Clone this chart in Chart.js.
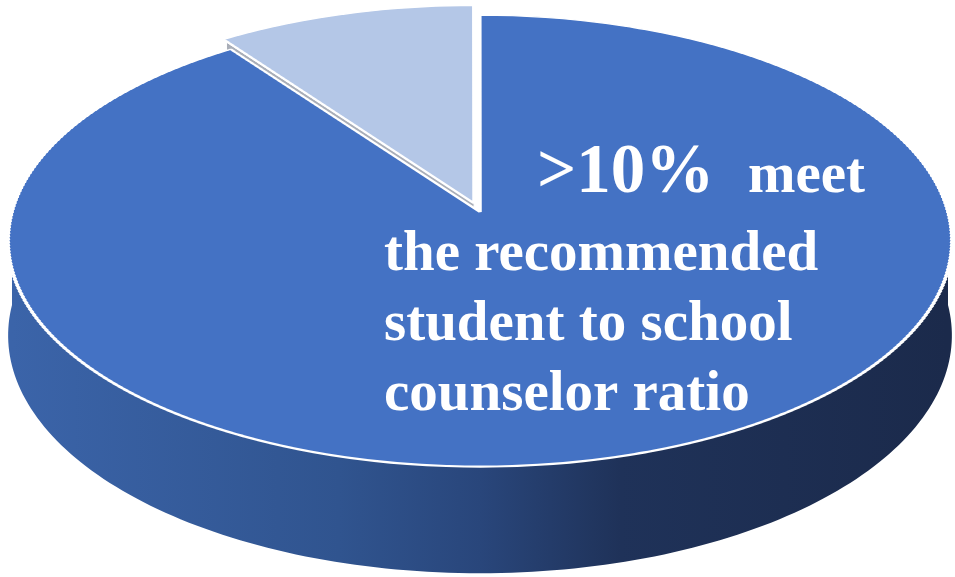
<!DOCTYPE html>
<html>
<head>
<meta charset="utf-8">
<script src="https://cdn.jsdelivr.net/npm/chart.js@4.4.0/dist/chart.umd.min.js"></script>
<style>
  html, body { margin: 0; padding: 0; background: #ffffff; }
  #wrap { width: 955px; height: 577px; }
</style>
</head>
<body>
<div id="wrap"><canvas id="pie" width="955" height="577"></canvas></div>
<script>
// Schools meeting the recommended student to school counselor ratio
const labels = ['Do not meet the ratio', 'Meet the ratio'];
const shares = [90, 10];
const sliceColors = ['#4472C4', '#B4C7E7'];
const sliceOffsets = [0, 44];
const faceColors = ['#2F528F', '#A9AEB8'];
const calloutLines = ['the recommended', 'student to school', 'counselor ratio'];
const calloutHead = '>10%';
const calloutTail = 'meet';

// how the flat pie is tilted on screen (perspective)
const VIEW = { cx: 480, cy: 212, kx: 468, ky: 222, persp: 0.128, depth: 93 };

function project(arc, px, py) {
    const R = arc.outerRadius;
    const u = (px - arc.x) / R;
    const v = (py - arc.y) / R;
    const w = 1 - VIEW.persp * v;
    return { X: VIEW.cx + VIEW.kx * u / w, Y: VIEW.cy + VIEW.ky * v / w, w };
}

function invY(Y) {
    const t = Y - VIEW.cy;
    return t / (VIEW.ky + VIEW.persp * t);
}

function sliceCenter(arc) {
    const off = (arc.options.offset || 0) / 4;
    const half = (arc.startAngle + arc.endAngle) / 2;
    return { ox: arc.x + Math.cos(half) * off, oy: arc.y + Math.sin(half) * off };
}

function wallGradient(ctx) {
    const g = ctx.createLinearGradient(VIEW.cx - VIEW.kx, 0, VIEW.cx + VIEW.kx, 0);
    g.addColorStop(0, '#3B64A9');
    g.addColorStop(0.35, '#30548F');
    g.addColorStop(0.5, '#29467B');
    g.addColorStop(0.65, '#1F3259');
    g.addColorStop(1, '#1B2A4B');
    return g;
}

// front (curved) side of each slice
function drawWall(ctx, arc) {
    const { ox, oy } = sliceCenter(arc);
    const R = arc.outerRadius;
    for (let k = -1; k <= 1; k++) {
        const lo = Math.max(arc.startAngle, 2 * Math.PI * k);
        const hi = Math.min(arc.endAngle, 2 * Math.PI * k + Math.PI);
        if (hi <= lo) continue;
        const top = [], bot = [];
        const n = 160;
        for (let i = 0; i <= n; i++) {
            const a = lo + (hi - lo) * i / n;
            const p = project(arc, ox + Math.cos(a) * R, oy + Math.sin(a) * R);
            top.push(p);
            bot.push({ X: p.X, Y: p.Y + VIEW.depth / p.w });
        }
        ctx.beginPath();
        top.forEach((p, i) => (i ? ctx.lineTo(p.X, p.Y) : ctx.moveTo(p.X, p.Y)));
        for (let i = bot.length - 1; i >= 0; i--) ctx.lineTo(bot[i].X, bot[i].Y);
        ctx.closePath();
        ctx.fillStyle = wallGradient(ctx);
        ctx.fill();
    }
}

// straight cut faces that look toward the viewer
function drawCutFaces(ctx, arc, i) {
    const { ox, oy } = sliceCenter(arc);
    const R = arc.outerRadius;
    const faces = [
        [arc.startAngle, arc.startAngle - Math.PI / 2],
        [arc.endAngle, arc.endAngle + Math.PI / 2]
    ];
    faces.forEach(([a, normal]) => {
        if (Math.sin(normal) < 0.05) return;
        const c = project(arc, ox, oy);
        const r = project(arc, ox + Math.cos(a) * R, oy + Math.sin(a) * R);
        ctx.beginPath();
        ctx.moveTo(c.X, c.Y);
        ctx.lineTo(r.X, r.Y);
        ctx.lineTo(r.X, r.Y + VIEW.depth / r.w);
        ctx.lineTo(c.X, c.Y + VIEW.depth / c.w);
        ctx.closePath();
        ctx.fillStyle = faceColors[i];
        ctx.fill();
        ctx.strokeStyle = '#ffffff';
        ctx.lineWidth = 1;
        ctx.stroke();
    });
}

// top of each slice, drawn by Chart.js in thin strips so it gets perspective
function drawTop(ctx, arc, width) {
    const R = arc.outerRadius;
    const step = 3;
    for (let y0 = 0; y0 < 500; y0 += step) {
        const y1 = y0 + step;
        const v0 = invY(y0), v1 = invY(y1);
        const vm = (v0 + v1) / 2;
        const sX = VIEW.kx / (1 - VIEW.persp * vm) / R;
        const sY = (y1 - y0) / ((v1 - v0) * R);
        const cy0 = arc.y + v0 * R;
        ctx.save();
        ctx.setTransform(1, 0, 0, 1, 0, 0);
        ctx.beginPath();
        ctx.rect(0, y0, width, step);
        ctx.clip();
        ctx.setTransform(sX, 0, 0, sY, VIEW.cx - arc.x * sX, y0 - cy0 * sY);
        arc.draw(ctx);
        ctx.restore();
    }
}

const tiltPlugin = {
    id: 'tilt',
    beforeDatasetsDraw(chart) {
        const ctx = chart.ctx;
        const arcs = chart.getDatasetMeta(0).data;
        ctx.save();
        ctx.setTransform(1, 0, 0, 1, 0, 0);
        arcs.forEach((arc) => drawWall(ctx, arc));
        arcs.forEach((arc, i) => drawCutFaces(ctx, arc, i));
        ctx.restore();
        arcs.forEach((arc) => drawTop(ctx, arc, chart.width));
        return false;
    },
    afterDraw(chart) {
        const ctx = chart.ctx;
        ctx.save();
        ctx.setTransform(1, 0, 0, 1, 0, 0);
        ctx.fillStyle = '#ffffff';
        ctx.textBaseline = 'alphabetic';
        ctx.font = 'bold 69px "Liberation Serif", "DejaVu Serif", serif';
        ctx.fillText(calloutHead, 537, 192);
        ctx.font = 'bold 57px "Liberation Serif", "DejaVu Serif", serif';
        ctx.fillText(calloutTail, 748, 192);
        calloutLines.forEach((line, i) => {
            ctx.fillText(line, 384, 270 + i * 70);
        });
        ctx.restore();
    }
};

new Chart(document.getElementById('pie'), {
    type: 'pie',
    data: {
        labels: labels,
        datasets: [{
            data: shares,
            backgroundColor: sliceColors,
            borderColor: '#ffffff',
            borderWidth: 2,
            offset: sliceOffsets
        }]
    },
    options: {
        responsive: false,
        animation: false,
        events: [],
        plugins: {
            legend: { display: false },
            tooltip: { enabled: false }
        }
    },
    plugins: [tiltPlugin]
});
</script>
</body>
</html>
